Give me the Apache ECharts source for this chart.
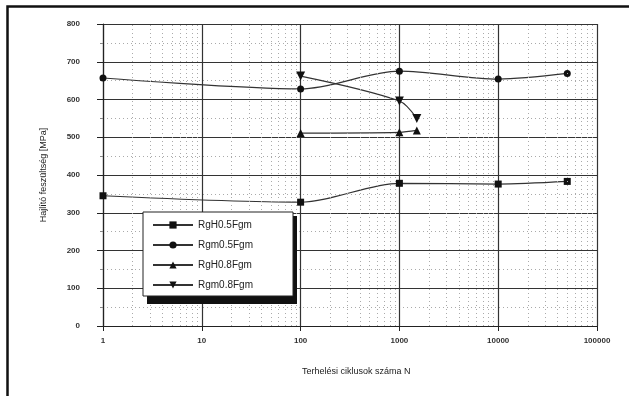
<!DOCTYPE html>
<html>
<head>
<meta charset="utf-8">
<script src="https://cdn.jsdelivr.net/npm/echarts@6/dist/echarts.min.js"></script>
<style>
html,body{margin:0;padding:0;background:#fff;}
#c{width:629px;height:396px;}
</style>
</head>
<body>
<div id="c"></div>
<script>
// ---- data ----
const seriesNames = ['RgH0.5Fgm', 'Rgm0.5Fgm', 'RgH0.8Fgm', 'Rgm0.8Fgm'];
const rgH05 = [[1, 345], [100, 328], [1000, 378], [10000, 376], [50000, 383]];
const rgm05 = [[1, 657], [100, 628], [1000, 675], [10000, 654], [50000, 669]];
const rgH08 = [[100, 511], [1000, 513], [1500, 518]];
const rgm08 = [[100, 662], [1000, 596], [1500, 550]];
const xTickLabels = ['1', '10', '100', '1000', '10000', '100000'];
const yTickLabels = ['0', '100', '200', '300', '400', '500', '600', '700', '800'];
const minorXLines = [2,3,4,5,6,7,8,9,20,30,40,50,60,70,80,90,200,300,400,500,600,700,800,900,
  2000,3000,4000,5000,6000,7000,8000,9000,20000,30000,40000,50000,60000,70000,80000,90000];

const chart = echarts.init(document.getElementById('c'), null, {renderer: 'canvas'});
const font = 'Liberation Sans';
const lineCol = '#333';
const symCol = '#111';

function mkSeries(name, data, symbol, size) {
  return {
    name: name, type: 'line', data: data, smooth: 0.3,
    symbol: symbol, symbolSize: size, showSymbol: true,
    lineStyle: {color: lineCol, width: 1.2},
    itemStyle: {color: symCol},
    z: 3, animation: false
  };
}

const option = {
  animation: false,
  backgroundColor: '#fff',
  grid: {left: 103, right: 32, top: 24, bottom: 70, containLabel: false},
  xAxis: {
    type: 'log', logBase: 10, min: 1, max: 100000,
    axisLine: {show: true, lineStyle: {color: '#222', width: 1.2}},
    axisTick: {show: true, length: 5, lineStyle: {color: '#222'}},
    axisLabel: {
      margin: 11, fontFamily: font, fontSize: 8, fontWeight: 'bold', color: '#333',
      formatter: function (v, i) { return xTickLabels[i] !== undefined ? xTickLabels[i] : ''; }
    },
    splitLine: {show: true, lineStyle: {color: '#333', width: 1.2}}
  },
  yAxis: {
    type: 'value', min: 0, max: 800, interval: 100,
    name: 'Hajlító feszültség [MPa]', nameLocation: 'middle', nameGap: 55, nameRotate: 90,
    nameTextStyle: {fontFamily: font, fontSize: 9, color: '#222'},
    axisLine: {show: true, lineStyle: {color: '#222', width: 1.2}},
    axisTick: {show: true, length: 6, lineStyle: {color: '#222'}},
    minorTick: {show: true, splitNumber: 2, length: 3, lineStyle: {color: '#888'}},
    axisLabel: {
      margin: 23, fontFamily: font, fontSize: 8, fontWeight: 'bold', color: '#333',
      formatter: function (v, i) { return yTickLabels[i] !== undefined ? yTickLabels[i] : ''; }
    },
    splitLine: {show: true, lineStyle: {color: '#333', width: 1.2}},
    minorSplitLine: {show: true, lineStyle: {color: '#aaa', type: [1, 3], width: 1}}
  },
  legend: {
    data: seriesNames, orient: 'vertical', left: 143, top: 212,
    itemWidth: 40, itemHeight: 9, itemGap: 10,
    padding: [8, 40, 6, 9],
    backgroundColor: '#fff', borderColor: '#222', borderWidth: 1,
    textStyle: {fontFamily: font, fontSize: 10, color: '#222'},
    z: 60
  },
  graphic: [
    {type: 'rect', left: 5, top: 4, shape: {width: 640, height: 410}, style: {fill: 'none', stroke: '#111', lineWidth: 2.5}, z: 100, silent: true},
    {type: 'text', left: 302, top: 367, style: {text: 'Terhelési ciklusok száma N', font: '9px "Liberation Sans"', fill: '#222'}, z: 100},
    {type: 'rect', left: 147, top: 216, shape: {width: 150, height: 88}, style: {fill: '#111'}, z: 50, silent: true}
  ],
  series: [
    mkSeries(seriesNames[0], rgH05, 'rect', 7),
    mkSeries(seriesNames[1], rgm05, 'circle', 7),
    mkSeries(seriesNames[2], rgH08, 'triangle', 8),
    mkSeries(seriesNames[3], rgm08, 'path://M0,0 L10,0 L5,9 Z', 9),
    {
      name: 'minor', type: 'line', data: [], silent: true, z: 1,
      markLine: {
        silent: true, symbol: ['none', 'none'], label: {show: false}, animation: false,
        lineStyle: {color: '#aaa', type: [1, 3], width: 1},
        data: minorXLines.map(function (v) { return {xAxis: v}; })
      }
    }
  ]
};
chart.setOption(option);
</script>
</body>
</html>
